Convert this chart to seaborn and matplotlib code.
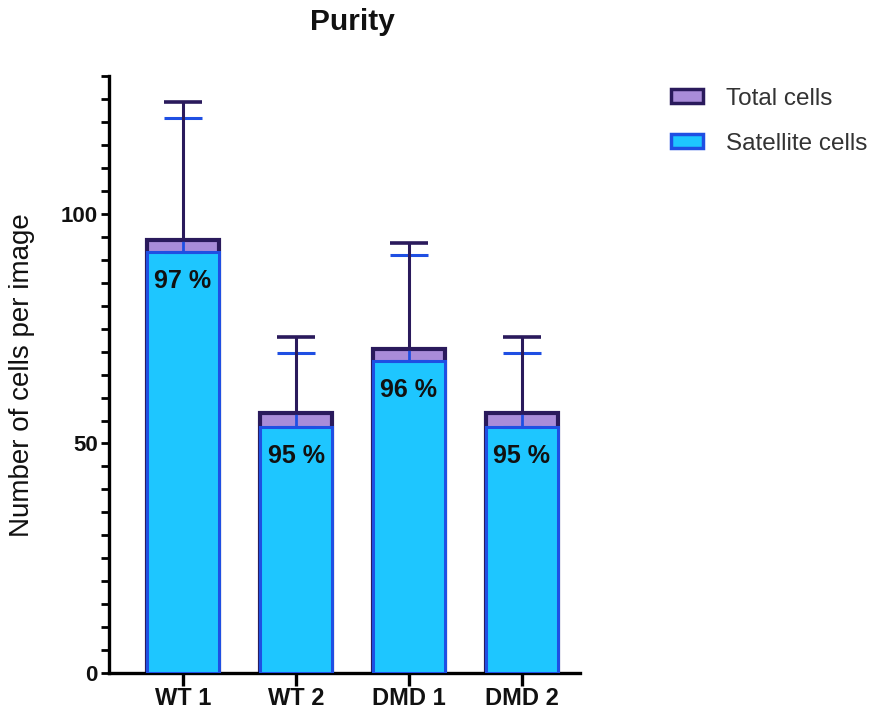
import matplotlib
matplotlib.use("Agg")
import matplotlib.pyplot as plt
import seaborn as sns
import pandas as pd
import numpy as np
from matplotlib.patches import Patch
from matplotlib.ticker import MultipleLocator

# ---- data ----
groups = ["WT 1", "WT 2", "DMD 1", "DMD 2"]
total_cells = [94.3, 56.6, 70.6, 56.6]
total_sd = [30.1, 16.6, 23.1, 16.6]
satellite_cells = [91.7, 53.6, 68.0, 53.6]
satellite_sd = [29.2, 16.1, 23.1, 16.1]
purity_labels = ["97 %", "95 %", "96 %", "95 %"]
legend_labels = ["Total cells", "Satellite cells"]

# ---- style ----
sns.set_style("ticks")
plt.rcParams["font.family"] = ["Liberation Sans", "DejaVu Sans"]

sky = "#1EC6FF"
blue = "#1F4FE3"
lavender = "#A98CD9"
navy = "#2A1A5C"

df = pd.DataFrame({"group": groups, "total": total_cells, "satellite": satellite_cells})

fig = plt.figure(figsize=(8.8, 7.18), dpi=100)
ax = fig.add_axes([0.1239, 0.0627, 0.659 - 0.1239, 0.8937 - 0.0627])

sns.barplot(data=df, x="group", y="total", color=lavender, edgecolor=navy,
            linewidth=3.0, width=0.63, saturation=1, ax=ax, zorder=2)
sns.barplot(data=df, x="group", y="satellite", color=sky, edgecolor=blue,
            linewidth=2.2, width=0.63, saturation=1, ax=ax, zorder=3)

xpos = np.arange(len(groups))
ax.errorbar(xpos, satellite_cells, yerr=[np.zeros(len(groups)), satellite_sd],
            fmt="none", ecolor=blue, elinewidth=2.0, capsize=13.5, capthick=2.2, zorder=4)
ax.errorbar(xpos, total_cells, yerr=[np.zeros(len(groups)), total_sd],
            fmt="none", ecolor=navy, elinewidth=2.2, capsize=13.5, capthick=2.6, zorder=5)

for i, (v, lab) in enumerate(zip(satellite_cells, purity_labels)):
    ax.text(i, v - 6.3, lab, ha="center", va="center", fontsize=18,
            fontweight="bold", color="#111111", zorder=6)

ax.set_ylim(0, 130)
ax.set_xlim(-0.655, 3.513)
ax.set_yticks([0, 50, 100])
ax.yaxis.set_minor_locator(MultipleLocator(5))
ax.set_xlabel("")
ax.set_ylabel("Number of cells per image", fontsize=20, color="#111111", va="center")
ax.yaxis.set_label_coords(-0.185, 0.5)

for sp in ["top", "right"]:
    ax.spines[sp].set_visible(False)
for sp in ["left", "bottom"]:
    ax.spines[sp].set_linewidth(2.4)
    ax.spines[sp].set_color("black")

ax.tick_params(axis="y", which="major", length=6, width=2.0, labelsize=16, pad=2, colors="black")
ax.tick_params(axis="y", which="minor", length=6, width=2.0, colors="black")
ax.tick_params(axis="x", which="major", length=9, width=2.4, labelsize=17, pad=1, colors="black")
for t in ax.get_xticklabels() + ax.get_yticklabels():
    t.set_fontweight("bold")
    t.set_color("#111111")

fig.text(352 / 880, 1 - 22 / 718, "Purity", ha="center", va="center",
         fontsize=21.5, fontweight="bold", color="#111111")

handles = [Patch(facecolor=lavender, edgecolor=navy, linewidth=2.5),
           Patch(facecolor=sky, edgecolor=blue, linewidth=2.5)]
leg = fig.legend(handles, legend_labels, loc="upper left", bbox_to_anchor=(0.762, 0.878),
                 frameon=False, fontsize=17.5, handlelength=1.35, handleheight=0.55,
                 handletextpad=0.95, labelspacing=0.95, borderpad=0, borderaxespad=0)
for t in leg.get_texts():
    t.set_color("#333333")

fig.savefig("out.png", dpi=100)
